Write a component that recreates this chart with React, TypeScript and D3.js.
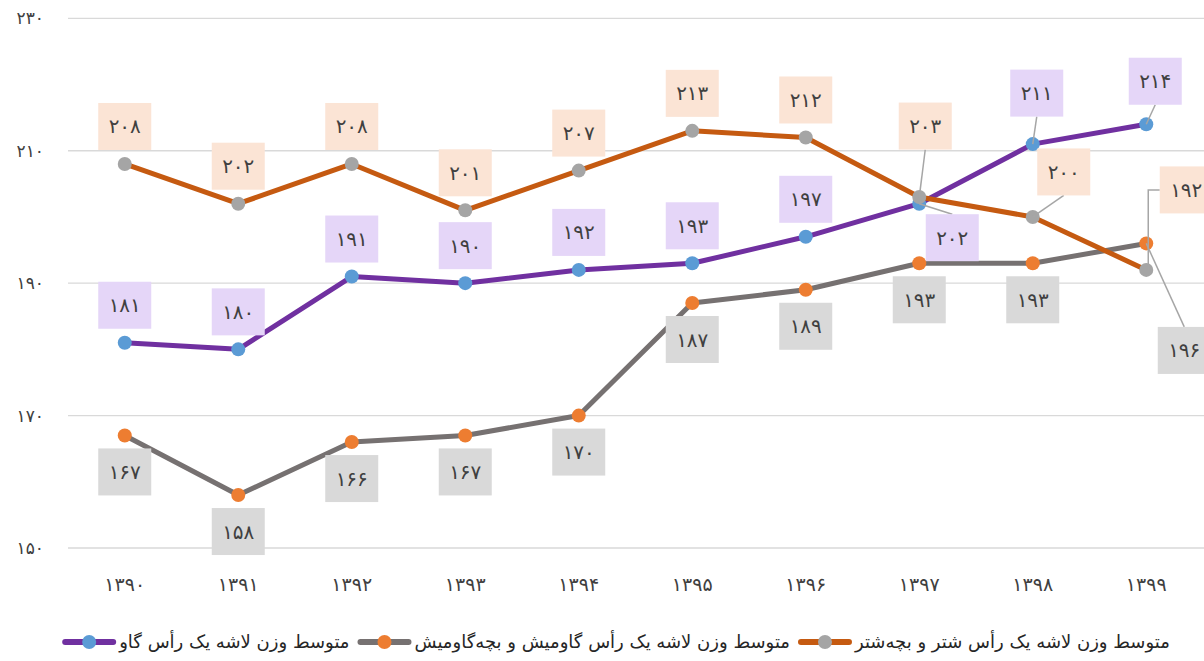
import React, { useEffect, useRef } from 'react';
import * as d3 from 'd3';

const years = ['۱۳۹۰', '۱۳۹۱', '۱۳۹۲', '۱۳۹۳', '۱۳۹۴', '۱۳۹۵', '۱۳۹۶', '۱۳۹۷', '۱۳۹۸', '۱۳۹۹'];
const cattle = [181, 180, 191, 190, 192, 193, 197, 202, 211, 214];
const buffalo = [167, 158, 166, 167, 170, 187, 189, 193, 193, 196];
const camel = [208, 202, 208, 201, 207, 213, 212, 203, 200, 192];
const yTicks = [150, 170, 190, 210, 230];
const seriesNames = [
  'متوسط وزن لاشه یک رأس گاو',
  'متوسط وزن لاشه یک رأس گاومیش و بچه‌گاومیش',
  'متوسط وزن لاشه یک رأس شتر و بچه‌شتر',
];

const W = 1204;
const H = 661;
const FONT = '"DejaVu Sans", sans-serif';
const BOX_W = 53;
const BOX_H = 47;

const toFa = (n: number | string) => String(n).replace(/\d/g, (d) => '۰۱۲۳۴۵۶۷۸۹'[+d]);

// label moves for crowded points: dx/dy of box centre from point, leader kind
type Move = { dx: number; dy: number; lead: 'top' | 'bottom' | 'elbow' };

const series = [
  {
    name: seriesNames[0], values: cattle, line: '#7030a0', marker: '#5b9bd5', box: '#e5d6f8', place: 'above',
    moves: { 7: { dx: 33, dy: 34, lead: 'top' }, 8: { dx: 4, dy: -51, lead: 'bottom' }, 9: { dx: 9, dy: -43, lead: 'bottom' } } as Record<number, Move>,
  },
  {
    name: seriesNames[1], values: buffalo, line: '#767171', marker: '#ed7d31', box: '#d9d9d9', place: 'below',
    moves: { 9: { dx: 38, dy: 107, lead: 'top' } } as Record<number, Move>,
  },
  {
    name: seriesNames[2], values: camel, line: '#c55a11', marker: '#a5a5a5', box: '#fbe4d5', place: 'above',
    moves: { 7: { dx: 6, dy: -71, lead: 'bottom' }, 8: { dx: 31, dy: -45, lead: 'bottom' }, 9: { dx: 40, dy: -80, lead: 'elbow' } } as Record<number, Move>,
  },
];

const App = () => {
  const ref = useRef<SVGSVGElement>(null);

  useEffect(() => {
    const svg = d3.select(ref.current);
    svg.selectAll('*').remove();

    const x = d3.scalePoint<string>().domain(years).range([68, 1203]).padding(0.5);
    const y = d3.scaleLinear().domain([150, 230]).range([548, 18.3]);

    // grid
    svg.append('g')
      .selectAll('line')
      .data(yTicks)
      .join('line')
      .attr('x1', 68)
      .attr('x2', W)
      .attr('y1', (d) => y(d))
      .attr('y2', (d) => y(d))
      .attr('stroke', '#d9d9d9')
      .attr('stroke-width', 1.3);

    svg.append('g')
      .selectAll('text')
      .data(yTicks)
      .join('text')
      .attr('x', 44)
      .attr('y', (d) => y(d))
      .attr('dy', '0.35em')
      .attr('text-anchor', 'end')
      .attr('font-size', 17)
      .attr('fill', '#404040')
      .text((d) => toFa(d));

    svg.append('g')
      .selectAll('text')
      .data(years)
      .join('text')
      .attr('x', (d) => x(d)!)
      .attr('y', 584)
      .attr('dy', '0.35em')
      .attr('text-anchor', 'middle')
      .attr('font-size', 19)
      .attr('fill', '#404040')
      .text((d) => d);

    const line = d3.line<number>().x((_, i) => x(years[i])!).y((d) => y(d));

    series.forEach((s) => {
      svg.append('path')
        .attr('d', line(s.values))
        .attr('fill', 'none')
        .attr('stroke', s.line)
        .attr('stroke-width', 5)
        .attr('stroke-linejoin', 'round');
      svg.append('g')
        .selectAll('circle')
        .data(s.values)
        .join('circle')
        .attr('cx', (_, i) => x(years[i])!)
        .attr('cy', (d) => y(d))
        .attr('r', 7)
        .attr('fill', s.marker);
    });

    // data labels
    series.forEach((s) => {
      const g = svg.append('g');
      s.values.forEach((v, i) => {
        const px = x(years[i])!;
        const py = y(v);
        const mv = s.moves[i];
        let cx = px;
        let cy = s.place === 'above' ? py - 14 - BOX_H / 2 : py + 13 + BOX_H / 2;
        if (mv) {
          cx = px + mv.dx;
          cy = py + mv.dy;
          const lead = g.append('path').attr('fill', 'none').attr('stroke', '#a6a6a6').attr('stroke-width', 1.5);
          if (mv.lead === 'top') lead.attr('d', `M${px},${py}L${cx},${cy - BOX_H / 2}`);
          else if (mv.lead === 'bottom') lead.attr('d', `M${px},${py}L${cx},${cy + BOX_H / 2}`);
          else lead.attr('d', `M${px + 2},${py}L${px + 2},${cy}L${cx - BOX_W / 2},${cy}`);
        }
        g.append('rect')
          .attr('x', cx - BOX_W / 2)
          .attr('y', cy - BOX_H / 2)
          .attr('width', BOX_W)
          .attr('height', BOX_H)
          .attr('fill', s.box);
        g.append('text')
          .attr('x', cx)
          .attr('y', cy)
          .attr('dy', '0.35em')
          .attr('text-anchor', 'middle')
          .attr('font-size', 20)
          .attr('fill', '#404040')
          .text(toFa(v));
      });
    });

    // legend, swatch left of each text
    const lg = svg.append('g');
    const items = series.map((s) => {
      const t = lg.append('text')
        .attr('y', 642)
        .attr('dy', '0.35em')
        .attr('font-size', 18)
        .attr('fill', '#262626')
        .text(s.name);
      const w = (t.node() as SVGTextElement).getComputedTextLength();
      return { s, t, w };
    });
    const SW = 54;
    const total = d3.sum(items, (d) => SW + 3 + d.w) + 8 * (items.length - 1);
    let lx = 616 - total / 2;
    items.forEach(({ s, t, w }) => {
      lg.append('line')
        .attr('x1', lx + 3)
        .attr('x2', lx + SW - 3)
        .attr('y1', 642)
        .attr('y2', 642)
        .attr('stroke', s.line)
        .attr('stroke-width', 6)
        .attr('stroke-linecap', 'round');
      lg.append('circle').attr('cx', lx + SW / 2).attr('cy', 642).attr('r', 7).attr('fill', s.marker);
      t.attr('x', lx + SW + 3);
      lx += SW + 3 + w + 8;
    });
  }, []);

  return (
    <svg
      ref={ref}
      width={W}
      height={H}
      style={{ position: 'absolute', left: 0, top: 0, background: '#fff', fontFamily: FONT }}
    />
  );
};

export default App;
